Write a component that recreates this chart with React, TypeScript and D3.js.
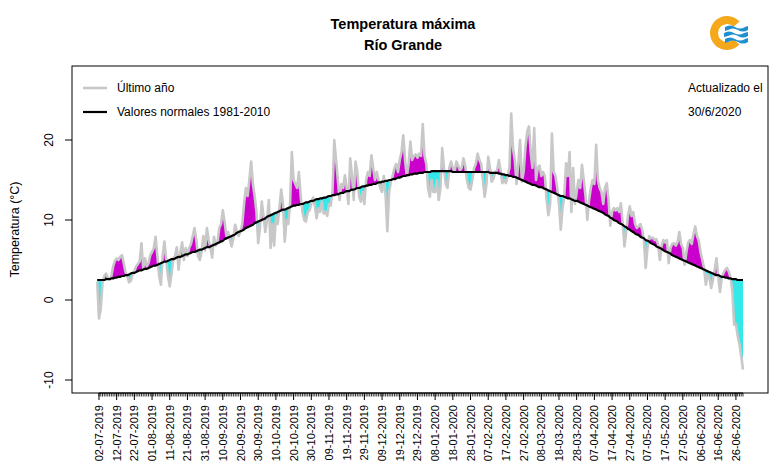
import React from 'react';
import * as d3 from 'd3';

// x tick labels (every 10 days starting 02-07-2019, day index 1)
const xTickLabels = ['02-07-2019','12-07-2019','22-07-2019','01-08-2019','11-08-2019','21-08-2019','31-08-2019','10-09-2019','20-09-2019','30-09-2019','10-10-2019','20-10-2019','30-10-2019','09-11-2019','19-11-2019','29-11-2019','09-12-2019','19-12-2019','29-12-2019','08-01-2020','18-01-2020','28-01-2020','07-02-2020','17-02-2020','27-02-2020','08-03-2020','18-03-2020','28-03-2020','07-04-2020','17-04-2020','27-04-2020','07-05-2020','17-05-2020','27-05-2020','06-06-2020','16-06-2020','26-06-2020'];
const yTicks = [-10, 0, 10, 20];

// Normal daily max temperature 1981-2010 (°C), by month (Jul 2019 .. Jun 2020)
const normJul = [2.5,2.5,2.5,2.5,2.5,2.6,2.6,2.6,2.7,2.7,2.8,2.8,2.9,2.9,3.0,3.0,3.1,3.1,3.2,3.3,3.4,3.4,3.5,3.6,3.7,3.7,3.8,3.9,3.9,4.0,4.1];
const normAug = [4.2,4.3,4.3,4.4,4.5,4.6,4.7,4.8,4.8,4.9,5.0,5.1,5.1,5.2,5.3,5.4,5.4,5.5,5.6,5.7,5.7,5.8,5.9,6.0,6.0,6.1,6.2,6.3,6.3,6.4,6.5];
const normSep = [6.6,6.6,6.7,6.8,6.9,7.0,7.1,7.2,7.3,7.4,7.6,7.7,7.8,7.9,8.0,8.1,8.2,8.4,8.5,8.6,8.7,8.8,9.0,9.1,9.2,9.3,9.4,9.6,9.7,9.8];
const normOct = [9.9,10.0,10.1,10.2,10.4,10.5,10.6,10.7,10.8,10.9,11.0,11.1,11.2,11.3,11.3,11.4,11.5,11.6,11.7,11.8,11.8,11.9,11.9,12.0,12.0,12.1,12.2,12.2,12.3,12.4,12.4];
const normNov = [12.5,12.6,12.6,12.7,12.7,12.8,12.8,12.9,13.0,13.0,13.1,13.1,13.2,13.2,13.3,13.4,13.4,13.5,13.6,13.6,13.7,13.8,13.8,13.9,14.0,14.0,14.1,14.2,14.2,14.3];
const normDec = [14.3,14.4,14.4,14.5,14.5,14.6,14.7,14.7,14.8,14.8,14.9,14.9,15.0,15.0,15.1,15.1,15.2,15.3,15.3,15.4,15.5,15.5,15.6,15.6,15.7,15.7,15.8,15.8,15.8,15.9,15.9];
const normJan = [15.9,16.0,16.0,16.0,16.0,16.1,16.1,16.1,16.1,16.1,16.1,16.1,16.1,16.1,16.1,16.1,16.1,16.0,16.0,16.0,16.0,16.0,16.0,16.0,16.0,16.0,16.0,16.0,16.0,16.0,16.0];
const normFeb = [16.0,16.0,16.0,16.0,16.0,16.0,16.0,15.9,15.9,15.9,15.9,15.9,15.8,15.8,15.7,15.7,15.6,15.6,15.5,15.5,15.4,15.4,15.3,15.2,15.1,15.0,14.9,14.8,14.7];
const normMar = [14.6,14.5,14.4,14.4,14.3,14.2,14.1,14.1,14.0,13.9,13.8,13.7,13.6,13.5,13.4,13.3,13.2,13.1,13.0,13.0,12.9,12.8,12.7,12.7,12.6,12.5,12.4,12.4,12.3,12.2,12.1];
const normApr = [12.0,11.9,11.8,11.7,11.6,11.5,11.4,11.3,11.2,11.1,11.0,10.9,10.7,10.6,10.5,10.3,10.2,10.0,9.9,9.8,9.6,9.5,9.4,9.2,9.1,8.9,8.8,8.6,8.5,8.3];
const normMay = [8.2,8.1,7.9,7.8,7.7,7.5,7.4,7.3,7.1,7.0,6.9,6.7,6.6,6.5,6.4,6.2,6.1,6.0,5.9,5.8,5.6,5.5,5.4,5.3,5.2,5.1,5.0,4.9,4.8,4.7,4.6];
const normJun = [4.5,4.4,4.3,4.2,4.1,4.0,3.9,3.8,3.7,3.6,3.5,3.4,3.3,3.2,3.1,3.1,3.0,2.9,2.9,2.8,2.8,2.7,2.7,2.6,2.6,2.6,2.5,2.5,2.5,2.5];

// Observed daily max temperature, last year (°C)
const tmaxJul = [2.3,-2.3,-1.2,2.2,3.0,3.3,2.8,2.6,3.0,4.2,4.9,5.2,5.0,5.4,5.6,4.6,3.5,3.0,2.2,2.4,3.2,3.6,4.2,4.5,4.8,7.1,4.0,5.2,4.2,4.6,5.6];
const tmaxAug = [6.0,6.5,7.9,5.5,3.0,1.9,5.5,7.3,5.0,3.0,1.7,3.2,5.2,5.5,6.6,3.8,6.0,7.2,5.0,6.5,5.5,6.5,7.0,8.0,9.0,7.5,5.5,5.0,6.0,8.0,6.2];
const tmaxSep = [9.0,7.5,6.5,5.3,7.9,6.8,7.2,9.0,9.5,11.2,9.8,8.0,8.5,7.5,6.7,7.8,9.4,8.5,8.0,8.6,9.5,12.0,14.0,13.0,15.0,17.3,14.5,13.0,11.0,7.1];
const tmaxOct = [9.0,12.3,10.5,8.5,10.0,12.5,6.5,9.5,6.8,10.5,9.5,11.5,13.8,12.0,7.3,10.0,9.5,12.0,18.5,15.0,14.5,14.0,16.0,13.0,11.0,10.0,9.8,11.0,11.2,12.0,12.8];
const tmaxNov = [11.8,10.2,11.5,11.0,12.3,10.8,11.0,10.5,12.0,11.8,13.5,20.0,17.5,15.0,12.5,14.5,14.0,15.6,14.0,12.0,17.7,15.5,12.5,17.3,16.0,13.0,12.3,13.5,12.0,15.0];
const tmaxDec = [16.0,15.5,18.1,16.5,15.0,16.0,15.0,14.0,13.5,15.5,13.0,8.6,13.5,14.8,15.5,16.5,17.0,16.0,17.5,18.5,20.6,17.5,15.5,17.0,19.8,17.5,18.0,18.2,17.8,18.3,18.0];
const tmaxJan = [22.0,18.0,17.0,14.0,12.9,15.0,13.5,13.5,15.0,12.5,14.0,19.0,16.5,14.5,14.0,16.5,17.3,16.5,16.0,17.3,16.8,16.2,16.5,17.7,16.8,15.0,14.0,13.8,15.0,16.5,17.0];
const tmaxFeb = [18.3,17.5,17.0,15.0,12.9,14.5,17.9,16.5,14.8,15.2,16.0,16.2,17.5,16.2,14.6,15.0,14.6,15.5,16.5,23.3,19.0,17.5,14.5,17.0,20.0,14.8,16.0,19.0,21.0];
const tmaxMar = [21.7,18.5,16.5,21.5,15.0,16.5,16.8,15.5,16.0,15.5,12.5,10.6,12.0,20.8,16.0,15.5,14.0,12.0,8.8,11.5,13.0,17.1,15.5,18.5,11.0,16.5,12.0,13.5,15.0,14.0,16.9];
const tmaxApr = [15.0,13.0,10.0,12.5,14.0,15.0,14.5,19.4,15.0,14.0,13.5,12.0,14.0,14.6,12.5,9.3,11.0,11.5,11.2,11.5,11.0,12.1,9.5,6.7,8.5,10.5,11.7,10.5,11.0,9.5];
const tmaxMay = [9.0,9.2,9.5,8.8,7.5,4.0,6.5,8.0,7.7,7.8,7.5,7.6,7.0,5.0,6.8,7.5,7.2,7.5,4.6,6.5,7.0,7.1,6.8,7.2,8.5,7.0,6.5,4.4,6.0,7.2,7.5];
const tmaxJun = [7.0,8.2,9.2,8.0,7.4,6.0,5.0,4.0,1.9,3.2,2.8,1.5,2.5,3.8,5.2,3.0,1.0,2.8,3.4,3.8,4.0,3.5,2.8,1.0,-3.1,-3.0,-4.5,-5.5,-7.0,-8.7];

const normal = [...normJul, ...normAug, ...normSep, ...normOct, ...normNov, ...normDec, ...normJan, ...normFeb, ...normMar, ...normApr, ...normMay, ...normJun];
const tmax = [...tmaxJul, ...tmaxAug, ...tmaxSep, ...tmaxOct, ...tmaxNov, ...tmaxDec, ...tmaxJan, ...tmaxFeb, ...tmaxMar, ...tmaxApr, ...tmaxMay, ...tmaxJun];

const FONT = '"Liberation Sans", Arial, sans-serif';

export default function App() {
  const W = 778, H = 476;
  const box = { l: 72, r: 768, t: 66, b: 393 };
  const n = tmax.length;
  const x = d3.scaleLinear().domain([0, n - 1]).range([97.2, 743]);
  const y = d3.scaleLinear().domain([0, 20]).range([300, 140]);

  // refined point list with crossings between observed and normal
  type P = { x: number; t: number; m: number };
  const pts: P[] = [];
  for (let i = 0; i < n; i++) {
    pts.push({ x: i, t: tmax[i], m: normal[i] });
    if (i < n - 1) {
      const a = tmax[i] - normal[i];
      const b = tmax[i + 1] - normal[i + 1];
      if (a * b < 0) {
        const f = a / (a - b);
        const xm = i + f;
        const mm = normal[i] + f * (normal[i + 1] - normal[i]);
        pts.push({ x: xm, t: mm, m: mm });
      }
    }
  }
  const areaAbove = d3.area<P>().x(p => x(p.x)).y0(p => y(p.m)).y1(p => y(Math.max(p.t, p.m)))(pts) || '';
  const areaBelow = d3.area<P>().x(p => x(p.x)).y0(p => y(p.m)).y1(p => y(Math.min(p.t, p.m)))(pts) || '';
  const lineObs = d3.line<number>().x((_, i) => x(i)).y(v => y(v))(tmax) || '';
  const lineNorm = d3.line<number>().x((_, i) => x(i)).y(v => y(v)).curve(d3.curveMonotoneX)(normal) || '';

  const dayIdx = d3.range(1, n);
  const majorIdx = xTickLabels.map((_, k) => 1 + k * 10);

  const ring = d3.arc()({ innerRadius: 9, outerRadius: 17, startAngle: Math.PI / 2 + 0.75, endAngle: Math.PI / 2 + 2 * Math.PI - 0.75 }) || '';

  return (
    <svg width={W} height={H} style={{ position: 'absolute', left: 0, top: 0, background: '#fff' }} fontFamily={FONT}>
      <rect x={0} y={0} width={W} height={H} fill="#fff" />
      {/* title */}
      <text x={403} y={29} textAnchor="middle" fontSize={14.5} fontWeight="bold">Temperatura máxima</text>
      <text x={403} y={50} textAnchor="middle" fontSize={14.5} fontWeight="bold">Río Grande</text>

      {/* logo */}
      <g>
        <path d={ring} transform="translate(727,33)" fill="#F5A81C" />
        <path d="M725,27 q5,-3 10,0 t10,0 l3,-1 l0,4 q-5,3 -10,0 t-10,0 l-3,1 z" fill="#1E8FD0" />
        <path d="M724,33 q5,-3 10,0 t10,0 l4,-1 l0,4 q-5,3 -10,0 t-10,0 l-4,1 z" fill="#1E8FD0" />
        <path d="M725,39 q5,-3 10,0 t10,0 l3,-1 l0,4 q-5,3 -10,0 t-10,0 l-3,1 z" fill="#1E8FD0" />
      </g>

      {/* data */}
      <path d={areaAbove} fill="#CC00CC" stroke="none" />
      <path d={areaBelow} fill="#33E8E8" stroke="none" />
      <path d={lineObs} fill="none" stroke="#C8C8C8" strokeWidth={2.6} strokeLinejoin="round" />
      <path d={lineNorm} fill="none" stroke="#000" strokeWidth={2.2} />

      {/* box */}
      <rect x={box.l} y={box.t} width={box.r - box.l} height={box.b - box.t} fill="none" stroke="#000" strokeWidth={1} />

      {/* y axis */}
      {yTicks.map(v => (
        <g key={v}>
          <line x1={box.l - 7} x2={box.l} y1={y(v)} y2={y(v)} stroke="#000" />
          <text transform={`translate(${box.l - 19},${y(v)}) rotate(-90)`} textAnchor="middle" fontSize={12}>{v}</text>
        </g>
      ))}
      <text transform={`translate(19,${(box.t + box.b) / 2}) rotate(-90)`} textAnchor="middle" fontSize={12.5}>Temperatura (°C)</text>

      {/* x axis */}
      <line x1={x(1)} x2={x(n - 1)} y1={box.b} y2={box.b} stroke="#000" />
      {dayIdx.map(i => (
        <line key={i} x1={x(i)} x2={x(i)} y1={box.b} y2={box.b + 3.5} stroke="#000" strokeWidth={0.8} />
      ))}
      {majorIdx.map((i, k) => (
        <g key={k}>
          <line x1={x(i)} x2={x(i)} y1={box.b} y2={box.b + 7} stroke="#000" />
          <text transform={`translate(${x(i) + 4},${box.b + 12}) rotate(-90)`} textAnchor="end" fontSize={11}>{xTickLabels[k]}</text>
        </g>
      ))}

      {/* legend */}
      <line x1={83} x2={107} y1={88} y2={88} stroke="#C8C8C8" strokeWidth={2.6} />
      <text x={117} y={92} fontSize={12}>Último año</text>
      <line x1={83} x2={107} y1={112} y2={112} stroke="#000" strokeWidth={2.2} />
      <text x={117} y={116} fontSize={12}>Valores normales 1981-2010</text>
      <text x={688} y={92} fontSize={12}>Actualizado el</text>
      <text x={688} y={116} fontSize={12}>30/6/2020</text>
    </svg>
  );
}
